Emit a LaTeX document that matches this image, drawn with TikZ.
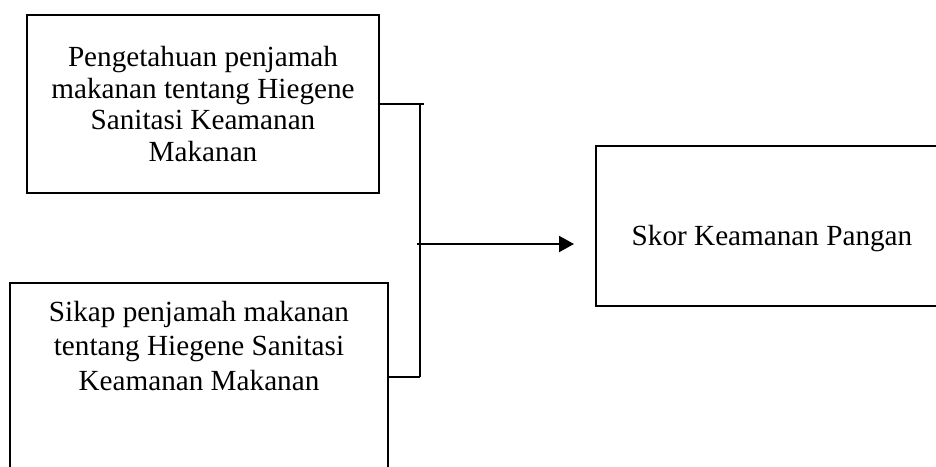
\documentclass[tikz,border=0pt]{standalone}
\usepackage{fontspec}
\setmainfont{Liberation Serif}
\usetikzlibrary{arrows.meta}

\begin{document}
\begin{tikzpicture}[x=1pt,y=-1pt,
    kotak/.style={draw,line width=2pt,align=center,inner sep=0pt,
      font=\fontsize{29.2}{31.5}\selectfont},
    panah/.style={line width=2pt,-{Triangle[length=15pt,width=16pt]}}]
  \useasboundingbox (0,0) rectangle (936,466);
  \clip (0,0) rectangle (936,466);
  \node[kotak,minimum width=352,minimum height=178] (tahu) at (203,104)
    {Pengetahuan penjamah\\makanan tentang Hiegene\\Sanitasi Keamanan\\Makanan};
  \node[kotak,minimum width=378,minimum height=188,inner ysep=8pt,
    font=\fontsize{29.2}{34.5}\selectfont,
    text height=99pt,text depth=73pt] (sikap) at (199,377)
    {Sikap penjamah makanan\\tentang Hiegene Sanitasi\\Keamanan Makanan};
  \node[kotak,minimum width=352,minimum height=160,
    text height=44pt,text depth=6pt] (skor) at (772,226) {Skor Keamanan Pangan};
  \coordinate (atas) at (420,104);
  \coordinate (bawah) at (420,377);
  \coordinate (cabang) at (417,244);
  \begin{scope}[line width=2pt]
    \draw (tahu.east) -- ++(44,0);
    \draw (sikap.east) -- (bawah);
    \draw (atas) -- (bawah);
  \end{scope}
  \draw[panah,shorten >=21pt] (cabang) -- (cabang -| skor.west);
\end{tikzpicture}
\end{document}
